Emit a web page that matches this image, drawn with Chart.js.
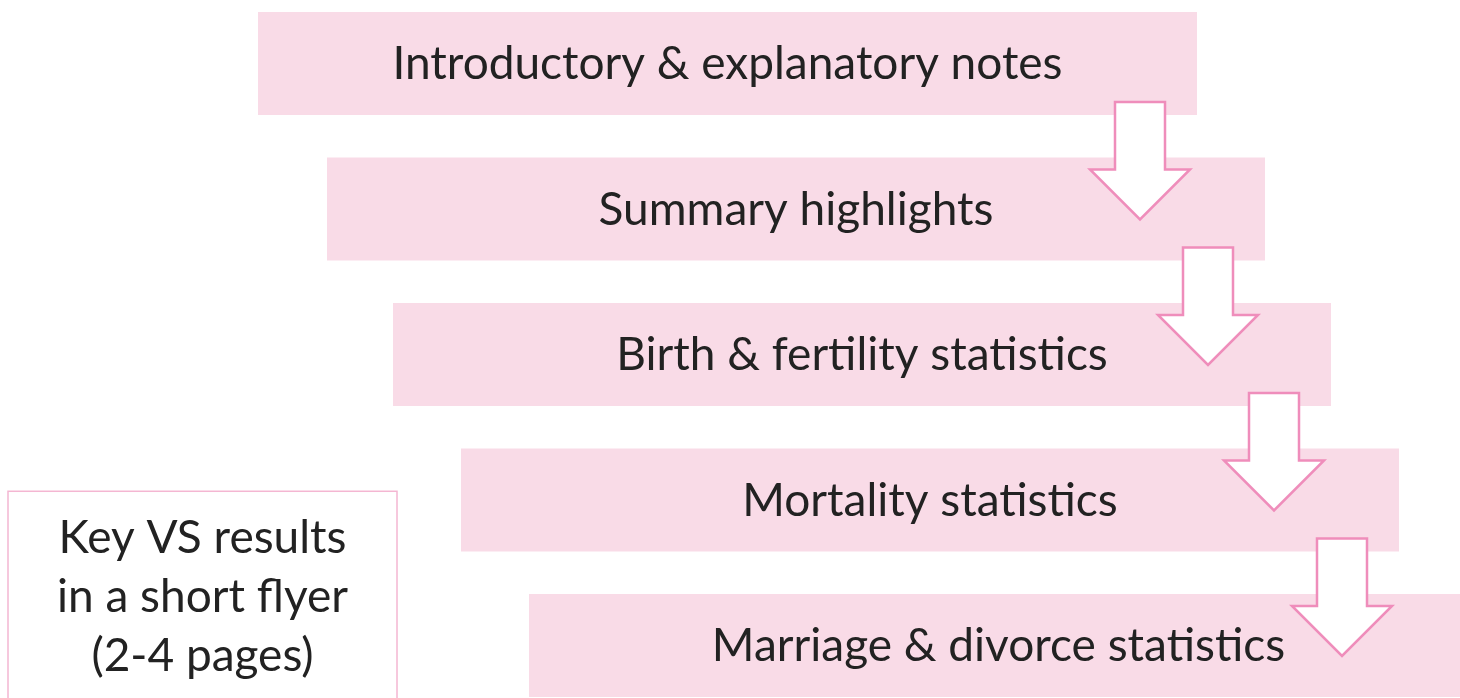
<!DOCTYPE html>
<html>
<head>
<meta charset="utf-8">
<script src="https://cdn.jsdelivr.net/npm/chart.js@4/dist/chart.umd.min.js"></script>
<style>
  html, body { margin: 0; padding: 0; background: #fff; }
  #wrap { width: 1460px; height: 698px; position: relative; }
</style>
</head>
<body>
<div id="wrap"><canvas id="flow"></canvas></div>
<script>
// steps of the report, top to bottom
const steps = ['Introductory & explanatory notes', 'Summary highlights', 'Birth & fertility statistics', 'Mortality statistics', 'Marriage & divorce statistics']
const stepStart = [258, 327, 393, 461, 529]
const stepEnd = [1197, 1265, 1331, 1399, 1468]
const keyLines = ['Key VS results', 'in a short flyer', '(2-4 pages)']

const pink = '#f9dbe7'
const pinkLine = '#ef8dbb'
const textCol = '#222'
const font = '46px Lato'

// arrows between boxes + labels + the side box
const flowPlugin = {
    id: 'flow',
    afterDatasetsDraw(chart){
        let ctx = chart.ctx
        let meta = chart.getDatasetMeta(0)
        let x = chart.scales.x
        let y = chart.scales.y
        ctx.save()

        for(let i=0;i<meta.data.length-1;i++){
            let a = meta.data[i]
            let b = meta.data[i+1]
            let cx = a.x - 57
            let top = a.y + a.height/2 - 13
            let bTop = b.y - b.height/2
            let shoulder = bTop + 12
            let tip = bTop + 62
            ctx.beginPath()
            ctx.moveTo(cx-25, top)
            ctx.lineTo(cx+25, top)
            ctx.lineTo(cx+25, shoulder)
            ctx.lineTo(cx+50, shoulder)
            ctx.lineTo(cx, tip)
            ctx.lineTo(cx-50, shoulder)
            ctx.lineTo(cx-25, shoulder)
            ctx.closePath()
            ctx.fillStyle = '#fff'
            ctx.fill()
            ctx.lineWidth = 2.5
            ctx.lineJoin = 'miter'
            ctx.strokeStyle = pinkLine
            ctx.stroke()
        }

        ctx.fillStyle = textCol
        ctx.font = font
        ctx.textAlign = 'center'
        ctx.textBaseline = 'middle'
        meta.data.forEach((el,i)=>{
            ctx.fillText(steps[i], (el.x + el.base)/2, el.y + 1)
        })

        // side box
        let l = x.getPixelForValue(8)
        let r = x.getPixelForValue(397)
        let t = y.getPixelForValue(2.94)
        let bt = y.getPixelForValue(4.37)
        ctx.fillStyle = '#fff'
        ctx.fillRect(l, t, r-l, bt-t)
        ctx.strokeStyle = '#f4b6d2'
        ctx.lineWidth = 1.5
        ctx.strokeRect(l, t, r-l, bt-t)
        ctx.fillStyle = textCol
        keyLines.forEach((line,i)=>{
            ctx.fillText(line, (l+r)/2, t + 47 + i*59)
        })
        ctx.restore()
    }
}

new Chart(document.getElementById('flow'), {
    type: 'bar',
    data: {
        labels: steps,
        datasets: [{
            data: steps.map((s,i)=>[stepStart[i], stepEnd[i]]),
            backgroundColor: pink,
            borderWidth: 0,
            borderSkipped: false,
            barPercentage: 0.708,
            categoryPercentage: 1,
            clip: false
        }]
    },
    options: {
        indexAxis: 'y',
        responsive: true,
        maintainAspectRatio: false,
        animation: false,
        layout: { padding: { top: 63.5, bottom: 52.5, left: 0, right: 0 } },
        plugins: { legend: { display: false }, tooltip: { enabled: false } },
        scales: {
            x: { type: 'linear', min: 0, max: 1460, display: false },
            y: { type: 'category', offset: false, display: false }
        }
    },
    plugins: [flowPlugin]
})
</script>
</body>
</html>
